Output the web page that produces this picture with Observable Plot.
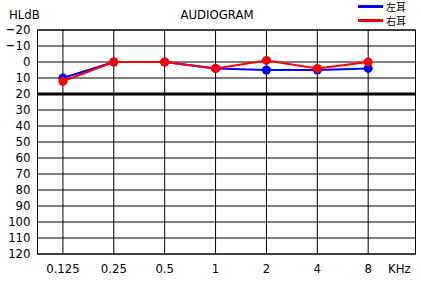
<!DOCTYPE html>
<html><head><meta charset="utf-8">
<script src="https://cdn.jsdelivr.net/npm/d3@7"></script>
<script src="https://cdn.jsdelivr.net/npm/@observablehq/plot@0.6"></script>
<style>
body{margin:0;background:#fff;font-family:"Liberation Sans Narrow","DejaVu Sans Condensed",sans-serif;}
#wrap{position:relative;width:421px;height:281px;}
.lbl{position:absolute;font-size:13px;color:#000;line-height:14px;white-space:nowrap;}
.leg{position:absolute;height:3px;width:25px;}
.legt{position:absolute;font-family:"Noto Sans CJK JP",sans-serif;font-size:10px;line-height:11px;height:11px;white-space:nowrap;}
</style></head><body>
<div id="wrap"></div>
<script>
const freqs = ["0.125","0.25","0.5","1","2","4","8"];
const leftEar = [10,0,0,4,5,5,4];
const rightEar = [12,0,0,4,-1,4,0];
const yTicks = [-20,-10,0,10,20,30,40,50,60,70,80,90,100,110,120];
const seriesNames = ["左耳","右耳"];
const colors = ["#0000ff","#ff0000"];
const titleText = "AUDIOGRAM";
const yUnit = "HLdB";
const xUnit = "KHz";

const idx = d3.range(freqs.length);
const data = [];
[leftEar, rightEar].forEach((vals, s) => idx.forEach(i => data.push({i, db: vals[i], ear: seriesNames[s]})));

const seriesMarks = seriesNames.flatMap(name => [
  Plot.line(data.filter(d => d.ear === name), {x: "i", y: "db", stroke: "ear", strokeWidth: 2}),
  Plot.dot(data.filter(d => d.ear === name), {x: "i", y: "db", fill: "ear", r: 4.5})
]);

const chart = Plot.plot({
  width: 421, height: 281,
  marginLeft: 37, marginRight: 6, marginTop: 29.5, marginBottom: 27.5,
  style: {fontFamily: '"Liberation Sans Narrow","DejaVu Sans Condensed",sans-serif', fontSize: "13px", background: "#fff"},
  x: {domain: [-0.5, 6.93], label: null},
  y: {domain: [-20, 120], reverse: true, label: null},
  color: {domain: seriesNames, range: colors},
  marks: [
    Plot.gridX(idx, {stroke: "#000", strokeOpacity: 1}),
    Plot.gridY(yTicks, {stroke: "#000", strokeOpacity: 1}),
    Plot.ruleY([20], {stroke: "#000", strokeWidth: 3}),
    Plot.frame({stroke: "#000"}),
    Plot.axisX(idx, {tickSize: 0, tickPadding: 10, tickFormat: i => freqs[i], fill: "#000", fontSize: 13, label: null}),
    Plot.axisY(yTicks, {tickSize: 0, tickPadding: 7, fill: "#000", fontSize: 13, label: null}),
    ...seriesMarks
  ]
});
const wrap = document.getElementById("wrap");
wrap.appendChild(chart);

function addLabel(text, left, top, cls) {
  const el = document.createElement("div");
  el.className = cls || "lbl";
  el.textContent = text;
  el.style.left = left + "px"; el.style.top = top + "px";
  wrap.appendChild(el);
  return el;
}
addLabel(yUnit, 9, 8);
const t = addLabel(titleText, 0, 8);
t.style.width = "434px"; t.style.textAlign = "center";
addLabel(xUnit, 388, 262);
seriesNames.forEach((name, s) => {
  const ln = document.createElement("div");
  ln.className = "leg";
  ln.style.background = colors[s];
  ln.style.left = "358px"; ln.style.top = (5 + s * 13.5) + "px";
  wrap.appendChild(ln);
  addLabel(name, 386, 1 + s * 13.5, "legt");
});
</script>
</body></html>
